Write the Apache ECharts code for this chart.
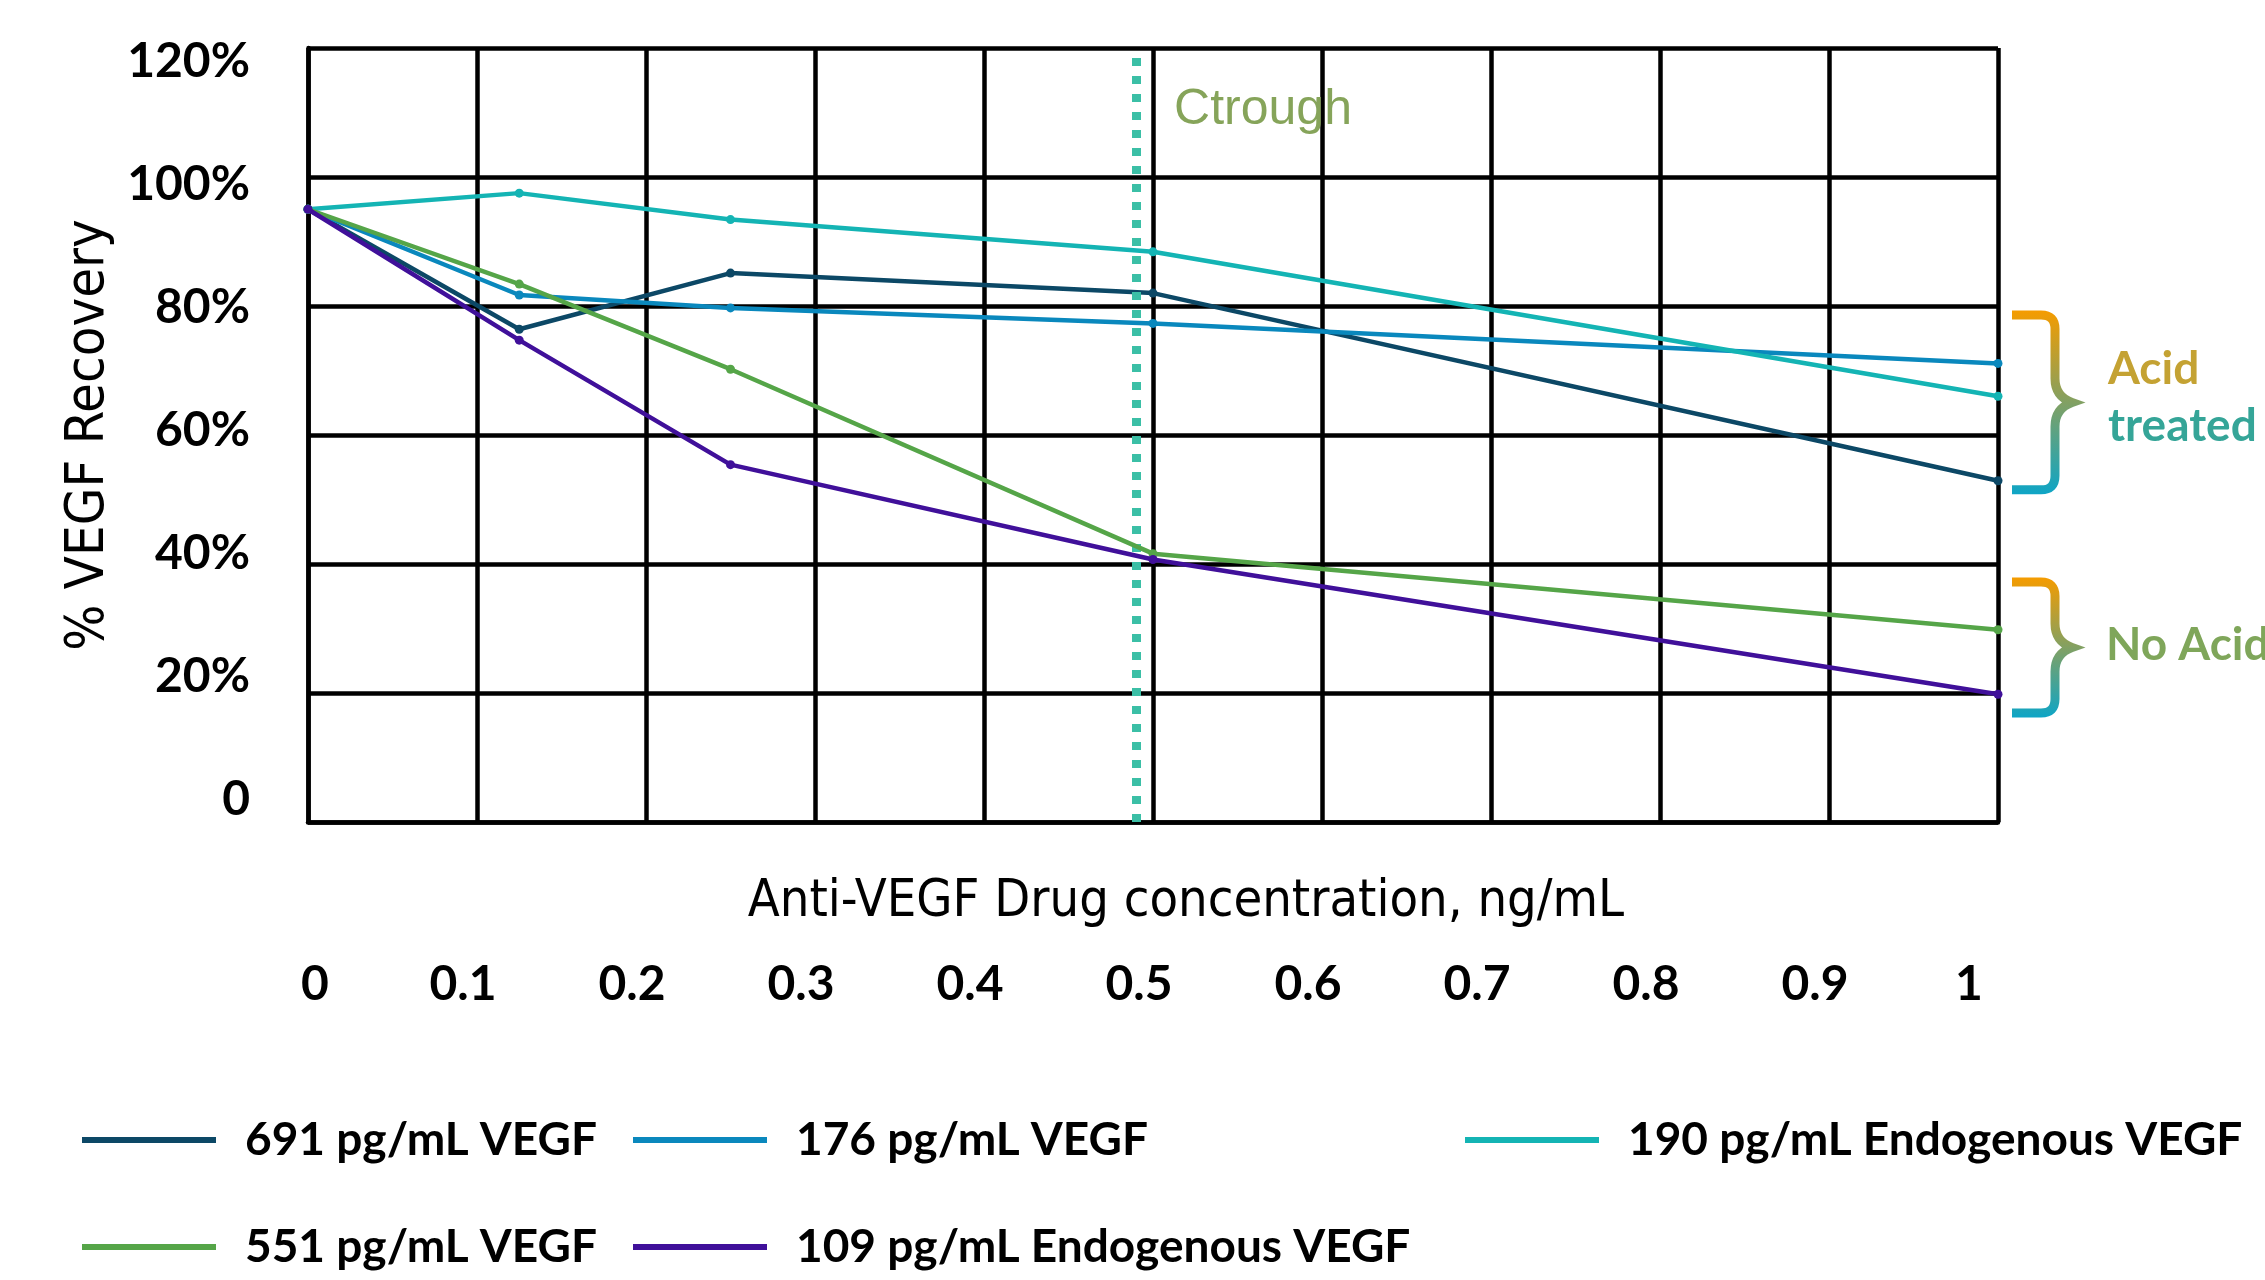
<!DOCTYPE html>
<html>
<head>
<meta charset="utf-8">
<script src="https://cdn.jsdelivr.net/npm/echarts@6/dist/echarts.min.js"></script>
<style>
html,body{margin:0;padding:0;background:#fff;}
#chart{width:2265px;height:1280px;}
</style>
</head>
<body>
<div id="chart"></div>
<script>
// ---- data ----
const xValues = [0, 0.125, 0.25, 0.5, 1];
const seriesNames = ['691 pg/mL VEGF', '176 pg/mL VEGF', '190 pg/mL Endogenous VEGF', '551 pg/mL VEGF', '109 pg/mL Endogenous VEGF'];
const vegf691 = [95, 76.4, 85.1, 82.0, 52.9];
const vegf176 = [95, 81.7, 79.7, 77.3, 71.1];
const endo190 = [95, 97.5, 93.4, 88.4, 66.0];
const vegf551 = [95, 83.4, 70.2, 41.6, 29.8];
const endo109 = [95, 74.7, 55.4, 40.7, 19.8];
const xTickLabels = ['0', '0.1', '0.2', '0.3', '0.4', '0.5', '0.6', '0.7', '0.8', '0.9', '1'];
const yTickLabels = ['0', '20%', '40%', '60%', '80%', '100%', '120%'];
const ctroughX = 0.49;
const acidRange = [78.6, 51.5];
const noAcidRange = [37.2, 16.9];

const colors = ['#0c4866', '#0a88bd', '#14b4b4', '#55a548', '#40109a'];
const allValues = [vegf691, vegf176, endo190, vegf551, endo109];

const boldFont = "Lato, 'Open Sans', sans-serif";
const narrowFont = "'Liberation Sans Narrow', 'DejaVu Sans Condensed', 'Liberation Sans', sans-serif";

// brace shape for the group annotations
const Brace = echarts.graphic.extendShape({
  shape: {x0: 0, xs: 0, xt: 0, yTop: 0, yBot: 0, r: 14},
  buildPath: function (ctx, s) {
    const ym = (s.yTop + s.yBot) / 2;
    ctx.moveTo(s.x0, s.yTop);
    ctx.lineTo(s.xs - s.r, s.yTop);
    ctx.quadraticCurveTo(s.xs, s.yTop, s.xs, s.yTop + s.r);
    ctx.lineTo(s.xs, ym - 24);
    ctx.quadraticCurveTo(s.xs, ym - 6, s.xt, ym);
    ctx.quadraticCurveTo(s.xs, ym + 6, s.xs, ym + 24);
    ctx.lineTo(s.xs, s.yBot - s.r);
    ctx.quadraticCurveTo(s.xs, s.yBot, s.xs - s.r, s.yBot);
    ctx.lineTo(s.x0, s.yBot);
  }
});
echarts.graphic.registerShape('brace', Brace);

const chart = echarts.init(document.getElementById('chart'), null, {renderer: 'canvas'});

const series = allValues.map((vals, i) => ({
  name: seriesNames[i],
  type: 'line',
  data: xValues.map((x, j) => [x, vals[j]]),
  symbol: 'circle',
  symbolSize: 9,
  lineStyle: {width: 4.5, color: colors[i]},
  itemStyle: {color: colors[i]},
  z: 3 + i,
  animation: false
}));

series[0].markLine = {
  silent: true,
  symbol: 'none',
  label: {show: false},
  lineStyle: {color: '#3bbfa6', width: 9, type: [8, 10]},
  data: [{xAxis: ctroughX}],
  animation: false
};

function legendAt(i, left, top) {
  return {
    data: [seriesNames[i]],
    left: left, top: top,
    padding: 0,
    icon: 'rect',
    itemWidth: 134, itemHeight: 6,
    selectedMode: false,
    textStyle: {fontFamily: boldFont, fontWeight: 'bold', fontSize: 46, color: '#000', padding: [0, 0, 0, 24]}
  };
}

// label nudges (styling only) so the tick texts sit as in the original artwork
const yRich = {};
yTickLabels.forEach((t, i) => {
  const d = Math.round((i * 20 - 70) * 0.3 - 1.5); // px down
  yRich['y' + i] = {fontFamily: boldFont, fontWeight: 'bold', fontSize: 48, color: '#000',
    padding: d >= 0 ? [2 * d, 0, 0, 0] : [0, 0, -2 * d, 0]};
});
const xRich = {};
xTickLabels.forEach((t, i) => {
  const d = i === 0 ? 7 : (i === xTickLabels.length - 1 ? -29 : -14); // px right
  xRich['x' + i] = {fontFamily: boldFont, fontWeight: 'bold', fontSize: 48, color: '#000',
    padding: d >= 0 ? [0, 0, 0, 2 * d] : [0, -2 * d, 0, 0]};
});

const option = {
  backgroundColor: '#fff',
  animation: false,
  grid: {left: 308, right: 267, top: 48, bottom: 458, containLabel: false},
  xAxis: {
    type: 'value', min: 0, max: 1, interval: 0.1,
    name: 'Anti-VEGF Drug concentration, ng/mL',
    nameLocation: 'middle', nameGap: 54, nameMoveOverlap: false,
    nameTextStyle: {fontFamily: narrowFont, fontSize: 52, color: '#000', padding: [0, 0, 0, 66]},
    axisLine: {show: true, lineStyle: {color: '#000', width: 4.5}},
    axisTick: {show: false},
    splitLine: {show: true, lineStyle: {color: '#000', width: 4.5}},
    axisLabel: {
      margin: 139,
      fontFamily: boldFont, fontWeight: 'bold', fontSize: 48, color: '#000',
      formatter: (v, idx) => '{x' + idx + '|' + xTickLabels[idx] + '}',
      rich: xRich
    }
  },
  yAxis: {
    type: 'value', min: 0, max: 120, interval: 20,
    name: '% VEGF Recovery',
    nameLocation: 'middle', nameGap: 192, nameMoveOverlap: false,
    nameTextStyle: {fontFamily: narrowFont, fontSize: 54, color: '#000'},
    axisLine: {show: true, lineStyle: {color: '#000', width: 4.5}},
    axisTick: {show: false},
    splitLine: {show: true, lineStyle: {color: '#000', width: 4.5}},
    axisLabel: {
      margin: 58,
      fontFamily: boldFont, fontWeight: 'bold', fontSize: 48, color: '#000',
      formatter: (v, idx) => '{y' + idx + '|' + yTickLabels[idx] + '}',
      rich: yRich
    }
  },
  legend: [
    legendAt(0, 82, 1117),
    legendAt(1, 633, 1117),
    legendAt(2, 1465, 1117),
    legendAt(3, 82, 1224),
    legendAt(4, 633, 1224)
  ],
  series: series
};

chart.setOption(option);

// ---- annotations positioned through the axes ----
const grad = (stops) => new echarts.graphic.LinearGradient(0, 0, 0, 1,
  stops.map(s => ({offset: s[0], color: s[1]})));
const rightX = chart.convertToPixel({gridIndex: 0}, [1, 0])[0];
const aTop = chart.convertToPixel({gridIndex: 0}, [1, acidRange[0]])[1];
const aBot = chart.convertToPixel({gridIndex: 0}, [1, acidRange[1]])[1];
const nTop = chart.convertToPixel({gridIndex: 0}, [1, noAcidRange[0]])[1];
const nBot = chart.convertToPixel({gridIndex: 0}, [1, noAcidRange[1]])[1];
const cPos = chart.convertToPixel({gridIndex: 0}, [ctroughX, 111]);
const bx = {x0: rightX + 14, xs: rightX + 57, xt: rightX + 74, r: 14};
const labelFont = "bold 46px Lato, sans-serif";

chart.setOption({
  graphic: [
    {type: 'brace', shape: Object.assign({yTop: aTop, yBot: aBot}, bx),
      style: {fill: null, stroke: grad([[0, '#f59c00'], [1, '#0ea5c6']]), lineWidth: 9}},
    {type: 'brace', shape: Object.assign({yTop: nTop, yBot: nBot}, bx),
      style: {fill: null, stroke: grad([[0, '#f59c00'], [1, '#0ea5c6']]), lineWidth: 9}},
    {type: 'text', x: rightX + 110, y: (aTop + aBot) / 2 - 56,
      style: {text: 'Acid', font: labelFont, fill: '#c4a233'}},
    {type: 'text', x: rightX + 110, y: (aTop + aBot) / 2 + 1,
      style: {text: 'treated', font: labelFont, fill: '#35a598'}},
    {type: 'text', x: rightX + 108, y: (nTop + nBot) / 2 - 25,
      style: {text: 'No Acid', font: labelFont, fill: '#7fa65a'}},
    {type: 'text', x: cPos[0] + 38, y: cPos[1] - 21,
      style: {text: 'Ctrough', font: "50px 'Liberation Sans', sans-serif", fill: '#86a45a'}}
  ]
});
</script>
</body>
</html>
